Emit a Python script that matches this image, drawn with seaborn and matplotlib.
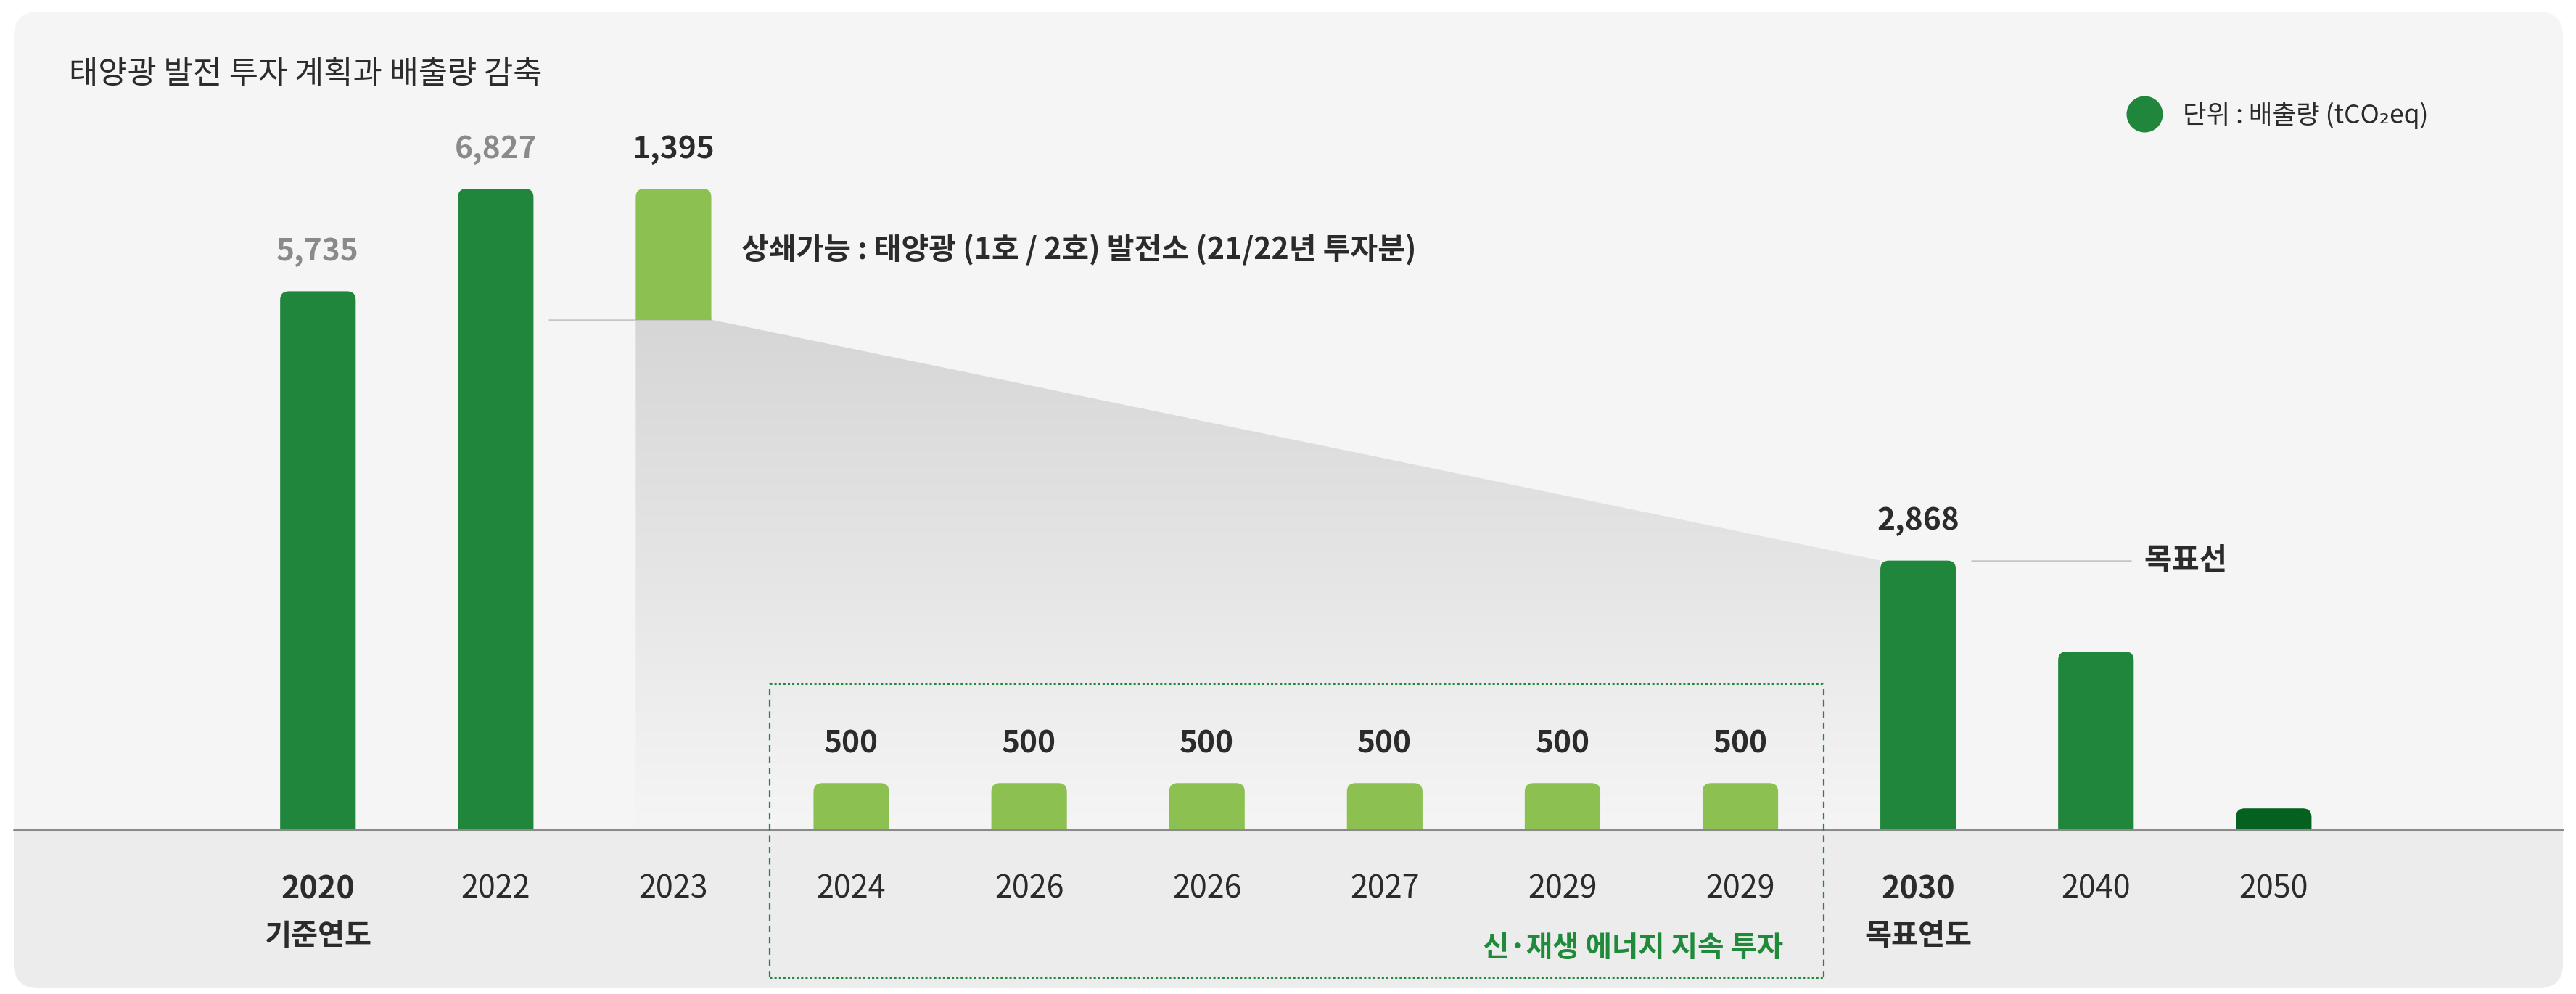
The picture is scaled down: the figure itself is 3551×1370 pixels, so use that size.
import numpy as np
import pandas as pd
import seaborn as sns
import matplotlib
matplotlib.use("Agg")
import matplotlib.pyplot as plt
from matplotlib.patches import FancyBboxPatch, Rectangle, Polygon
from matplotlib.lines import Line2D
from matplotlib.transforms import Affine2D, blended_transform_factory
from matplotlib.colors import LinearSegmentedColormap
import warnings
warnings.filterwarnings("ignore")

# dados (tCO2eq)
anos = ["2020", "2022", "2023", "2024", "2026", "2026", "2027", "2029", "2029", "2030", "2040", "2050"]
valores = [5735, 6827, 1395, 500, 500, 500, 500, 500, 500, 2868, 1900, 230]
tipos = ["배출", "배출", "상쇄", "투자", "투자", "투자", "투자", "투자", "투자", "배출", "배출", "넷제로"]
sem_rotulo = ["2040", "2050"]
sub_rotulos = {"2020": "기준연도", "2030": "목표연도"}

titulo = "태양광 발전 투자 계획과 배출량 감축"
nota_offset = "상쇄가능 : 태양광 (1호 / 2호) 발전소 (21/22년 투자분)"
nota_meta = "목표선"
nota_box = "신·재생 에너지 지속 투자"
legenda = "단위 : 배출량 (tCO₂eq)"

cores = {"배출": "#20863c", "상쇄": "#8cc152", "투자": "#8cc152", "넷제로": "#04611f"}
escuro = "#2b2b2b"
verde_txt = "#1f8a3a"

sns.set_theme(style="white")
plt.rcParams["font.family"] = ["Noto Sans CJK KR", "DejaVu Sans"]

W, H = 3551, 1370
fig = plt.figure(figsize=(W / 100, H / 100), dpi=100, facecolor="white")
px = Affine2D().scale(1 / W, 1 / H) + fig.transFigure

# cartão de fundo
card = FancyBboxPatch((19, 8), 3514, 1346, boxstyle="round,pad=0,rounding_size=34",
                      transform=px, facecolor="#f5f5f5", edgecolor="none", zorder=-2)
fig.add_artist(card)
base_px = 226
band = Rectangle((0, 0), W, base_px, transform=px, facecolor="#ececec", edgecolor="none", zorder=-1)
band.set_clip_path(card)
fig.add_artist(band)

ax = fig.add_axes([0, base_px / H, 1, 1 - base_px / H])
ax.set_facecolor("none")
for s in ax.spines.values():
    s.set_visible(False)

largura = 0.425
x0_lim, x1_lim = -1.788, 12.70
y_top = 8835

df = pd.DataFrame({"pos": range(len(anos)), "valor": valores, "tipo": tipos})
sns.barplot(data=df, x="pos", y="valor", hue="tipo", palette=cores, dodge=False,
            width=largura, saturation=1, legend=False, ax=ax)
ax.set_xlim(x0_lim, x1_lim)
ax.set_ylim(0, y_top)
ax.set_xlabel("")
ax.set_ylabel("")

# px por unidade
px_x = W / (x1_lim - x0_lim)
px_y = (H - base_px) / y_top
raio = 12
rx = raio / px_x
ry = raio / px_y

i_off = tipos.index("상쇄")
i_meta = anos.index("2030")
base_off = valores[i_off - 1] - valores[i_off]

# barras com topo arredondado
for p in list(ax.patches):
    x0, w, h = p.get_x(), p.get_width(), p.get_height()
    i = int(round(x0 + w / 2))
    base = base_off if i == i_off else 0
    fc = p.get_facecolor()
    p.remove()
    fb = FancyBboxPatch((x0, base - ry), w, h + ry,
                        boxstyle=f"round,pad=0,rounding_size={rx}",
                        mutation_aspect=ry / rx, facecolor=fc, edgecolor="none", zorder=3)
    ax.add_patch(fb)
    clip = Rectangle((x0 - 0.1, base), w + 0.2, y_top * 2, transform=ax.transData)
    fb.set_clip_path(clip)

# sombra em degradê
verts = [(i_off - largura / 2, base_off), (i_off + largura / 2, base_off),
         (i_meta - largura / 2, valores[i_meta]), (i_meta - largura / 2, 0),
         (i_off - largura / 2, 0)]
poly = Polygon(verts, closed=True, facecolor="none", edgecolor="none")
ax.add_patch(poly)
grad = np.linspace(0, 1, 256).reshape(-1, 1)
cmap = LinearSegmentedColormap.from_list("cinza", ["#f5f5f5", "#d6d6d6"])
im = ax.imshow(grad, extent=[i_off - largura / 2, i_meta - largura / 2, 0, base_off],
               origin="lower", aspect="auto", cmap=cmap, zorder=1)
im.set_clip_path(poly)
ax.set_xlim(x0_lim, x1_lim)
ax.set_ylim(0, y_top)

# linhas de referência
ax.plot([1 + largura / 2 + 0.083, i_off + largura / 2], [base_off, base_off],
        color="#c6c6c6", lw=1.8, zorder=2, solid_capstyle="butt")
ax.plot([i_meta + largura / 2 + 0.083, i_meta + 1.2], [valores[i_meta]] * 2,
        color="#c6c6c6", lw=1.8, zorder=2, solid_capstyle="butt")
ax.text(i_meta + 1.27, valores[i_meta], nota_meta, ha="left", va="center",
        fontsize=30, fontweight="bold", color=escuro)

ax.annotate(nota_offset, (i_off + largura / 2, (base_off + valores[i_off - 1]) / 2),
            xytext=(30, 4), textcoords="offset points", ha="left", va="center",
            fontsize=29.5, fontweight="bold", color=escuro)

# rótulos de valor
for i, (ano, v) in enumerate(zip(anos, valores)):
    if ano in sem_rotulo:
        continue
    topo = valores[i - 1] if i == i_off else v
    cor = "#8a8a8a" if int(ano) < 2023 else escuro
    ax.annotate(f"{v:,}", (i, topo), xytext=(0, 39), textcoords="offset points",
                ha="center", va="center", fontsize=30.5, fontweight="bold", color=cor)

# linha de base
ax.axhline(0, xmin=19 / W, xmax=3533 / W, color="#8a8a8a", lw=2.2, zorder=4, clip_on=False)

# eixo x
ax.set_yticks([])
ax.set_xticks(range(len(anos)), labels=anos)
ax.tick_params(axis="x", length=0, pad=59, labelsize=31, labelcolor=escuro)
for lbl in ax.get_xticklabels():
    lbl.set_va("center")
    if lbl.get_text() in sub_rotulos:
        lbl.set_fontweight("bold")

blend = blended_transform_factory(ax.transData, px)
for ano, sub in sub_rotulos.items():
    ax.text(anos.index(ano), 80, sub, transform=blend, ha="center", va="center",
            fontsize=29, fontweight="bold", color=escuro, clip_on=False)

# caixa pontilhada
bx0, bx1 = 2.54, 8.47
by0, by1 = 23, 428
kw = dict(color=verde_txt, transform=blend, clip_on=False, zorder=4)
ax.plot([bx0, bx1], [by1, by1], lw=2.2, ls=(0, (1, 1)), **kw)
ax.plot([bx0, bx1], [by0, by0], lw=2.2, ls=(0, (1, 1)), **kw)
ax.plot([bx0, bx0], [by0, by1], lw=1.6, ls=(0, (4, 3)), **kw)
ax.plot([bx1, bx1], [by0, by1], lw=1.6, ls=(0, (4, 3)), **kw)
ax.text(8.24, 64, nota_box, transform=blend, ha="right", va="center",
        fontsize=28.5, fontweight="bold", color=verde_txt, clip_on=False)

# título e legenda
fig.text(95 / W, 1268 / H, titulo, ha="left", va="center", fontsize=31.5,
         fontweight="medium", color=escuro)
handle = Line2D([], [], marker="o", ls="none", markersize=36,
                markerfacecolor=cores["배출"], markeredgecolor="none")
ax.legend([handle], [legenda], loc="center left", bbox_to_anchor=(2938 / W, 1211 / H),
          bbox_transform=fig.transFigure, frameon=False, fontsize=25.5,
          handletextpad=1.0, handlelength=1.0, borderpad=0, borderaxespad=0,
          labelcolor=escuro)

fig.savefig("out.png", dpi=100, facecolor="white")
